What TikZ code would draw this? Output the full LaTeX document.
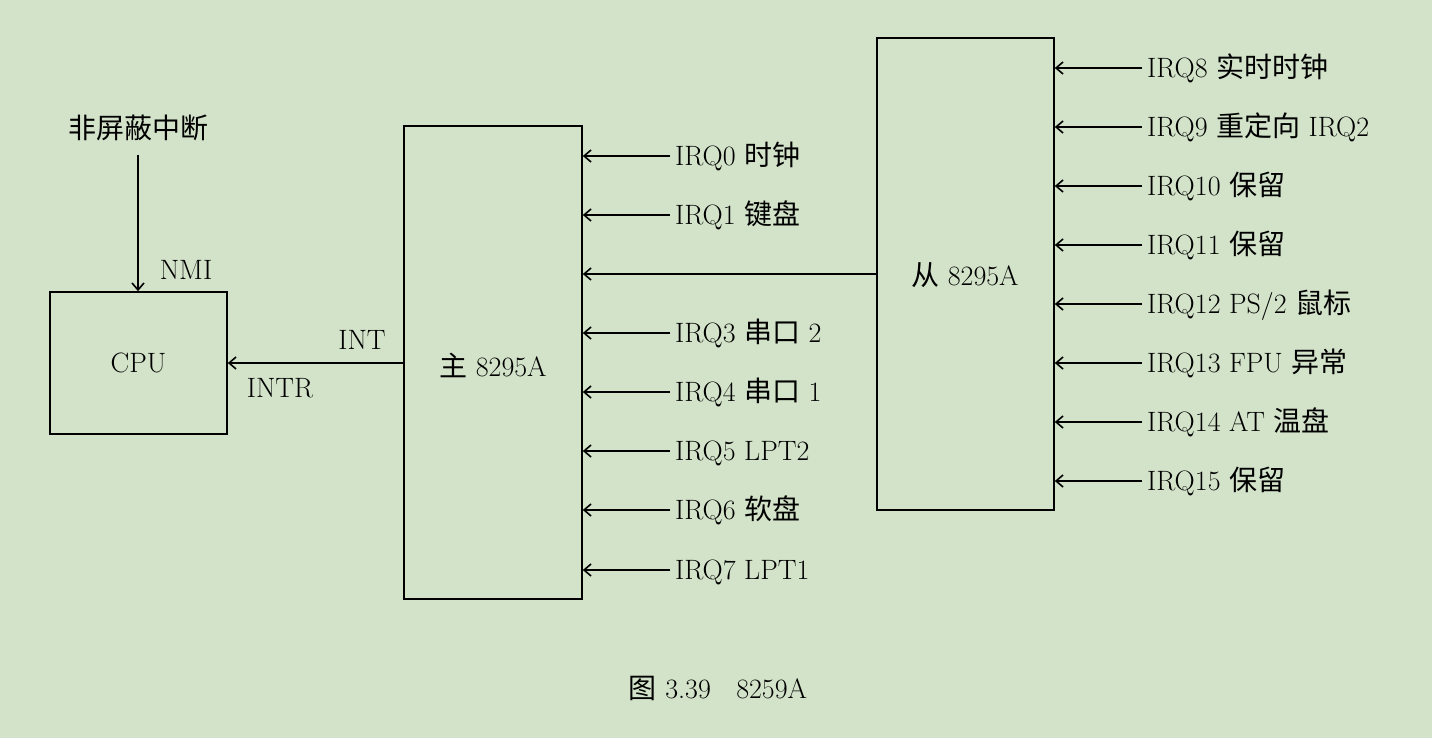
\documentclass[tikz,border=0pt]{standalone}
\usepackage{fontspec}
\newfontfamily\cjk{Noto Sans CJK SC}
\newcommand\zh[1]{{\cjk #1}}
\usetikzlibrary{arrows.meta}
\definecolor{bg}{HTML}{D3E3C9}
\tikzset{
  box/.style={draw=black, line width=1.6pt, inner sep=0pt},
  arr/.style={line width=1.6pt, -{Straight Barb[length=7pt,width=12pt,line width=1.6pt]}},
  lbl/.style={font=\fontsize{28}{32}\selectfont, inner sep=5pt, text height=22pt, text depth=3pt, anchor=west},
  txt/.style={font=\fontsize{28}{32}\selectfont, inner sep=0pt},
}
\begin{document}
\begin{tikzpicture}[x=1pt,y=-1pt]
\fill[bg] (0,0) rectangle (1432,738);
\useasboundingbox (0,0) rectangle (1432,738);
% boxes
\node[box, minimum width=177pt, minimum height=142pt] (cpu) at (138.5,363) {};
\node[txt] at (cpu.center) {CPU};
\node[box, minimum width=178pt, minimum height=473pt] (main) at (493,362.5) {};
\node[txt] at (493,365) {\zh{主} 8295A};
\node[box, minimum width=177pt, minimum height=472pt] (slave) at (965.5,274) {};
\node[txt] at (965,275) {\zh{从} 8295A};
% NMI
\node[txt] (nmi) at (138,128) {\zh{非屏蔽中断}};
\coordinate (nmitop) at (138,155);
\draw[arr] (nmitop) -- (nmitop |- cpu.north);
\node[txt] (nmil) at (186,270) {NMI};
% INT
\draw[arr] (main.west |- cpu.east) -- (cpu.east);
\node[txt] (intl) at (362,340) {INT};
\node[txt] (intrl) at (280,388) {INTR};
% main IRQs
\foreach \y/\t [count=\i] in {156/{IRQ0 \zh{时钟}},215/{IRQ1 \zh{键盘}},333/{IRQ3 \zh{串口} 2},392/{IRQ4 \zh{串口} 1},451/{IRQ5 LPT2},510/{IRQ6 \zh{软盘}},570/{IRQ7 LPT1}}{
  \node[lbl] (m\i) at (670,\y) {\t};
  \draw[arr] (m\i.west) -- (m\i.west -| main.east);
}
% slave -> main
\draw[arr] (slave.west |- 0,274) -- (main.east |- 0,274);
% slave IRQs
\foreach \y/\t [count=\i] in {68/{IRQ8 \zh{实时时钟}},127/{IRQ9 \zh{重定向} IRQ2},186/{IRQ10 \zh{保留}},245/{IRQ11 \zh{保留}},304/{IRQ12 PS/2 \zh{鼠标}},363/{IRQ13 FPU \zh{异常}},422/{IRQ14 AT \zh{温盘}},481/{IRQ15 \zh{保留}}}{
  \node[lbl] (s\i) at (1142,\y) {\t};
  \draw[arr] (s\i.west) -- (s\i.west -| slave.east);
}
% caption
\node[txt] (cap) at (718,688) {\zh{图}\ 3.39\ \ \ 8259A};
\end{tikzpicture}
\end{document}
